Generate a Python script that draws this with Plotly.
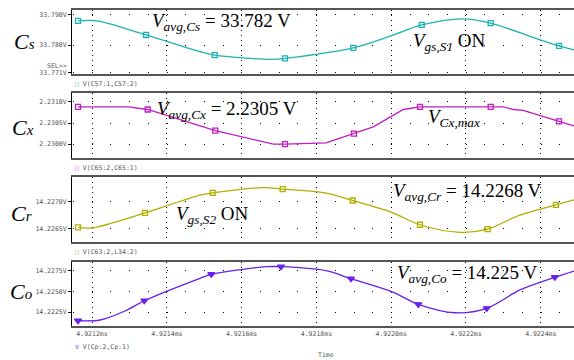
import plotly.graph_objects as go

# ---------------- data (time in ms, voltage in V) ----------------
t_cs = [4.9211626, 4.9212134, 4.9213444, 4.9214888, 4.9215281, 4.9216759, 4.9217160, 4.9218987,
        4.9220013, 4.9220816, 4.9221920, 4.9222660, 4.9223791, 4.9224487, 4.9224888]
v_cs = [33.78792, 33.7879, 33.7833, 33.7778, 33.7767, 33.7753, 33.7756, 33.7791,
        33.7831, 33.7866, 33.7886, 33.7872, 33.7825, 33.7797, 33.7784]
mk_cs = [0, 2, 4, 6, 7, 9, 11, 13]

t_cx = [4.9211626, 4.9212971, 4.9213489, 4.9214888, 4.9215297, 4.9216848, 4.9217160, 4.9218257, 4.9219005,
        4.9219521, 4.9220324, 4.9220770, 4.9222660, 4.9222997, 4.9223265, 4.9223532, 4.9224487, 4.9224888]
v_cx = [2.23088, 2.23088, 2.23082, 2.23043, 2.23032, 2.23000, 2.23000, 2.23003, 2.23025,
        2.23041, 2.23082, 2.23088, 2.23088, 2.23088, 2.23082, 2.23080, 2.23054, 2.23043]
mk_cx = [0, 2, 4, 6, 8, 11, 12, 16]

t_cr = [4.9211626, 4.9212000, 4.9213417, 4.9214888, 4.9215227, 4.9216580, 4.9217099, 4.9218230,
        4.9218971, 4.9220013, 4.9220770, 4.9221840, 4.9222580, 4.9223444, 4.9224406, 4.9224888]
v_cr = [14.22652, 14.22651, 14.22679, 14.22712, 14.22716, 14.22726, 14.22723, 14.22716,
        14.22702, 14.22680, 14.22657, 14.22643, 14.22649, 14.22675, 14.22694, 14.22703]
mk_cr = [0, 2, 4, 6, 8, 10, 12, 14]

t_co = [4.9211626, 4.9212214, 4.9212882, 4.9213398, 4.9214888, 4.9215190, 4.9216671, 4.9217053, 4.9218257,
        4.9218925, 4.9220013, 4.9220725, 4.9221706, 4.9222553, 4.9223444, 4.9224375, 4.9224888]
v_co = [14.22147, 14.22156, 14.22264, 14.22387, 14.22656, 14.22704, 14.22795, 14.22795, 14.22747,
        14.22651, 14.22495, 14.22344, 14.22243, 14.22296, 14.22516, 14.22668, 14.22743]
mk_co = [0, 3, 5, 7, 9, 11, 13, 15]

x_ticks = [4.9212, 4.9214, 4.9216, 4.9218, 4.9220, 4.9222, 4.9224]
x_labels = ["4.9212ms", "4.9214ms", "4.9216ms", "4.9218ms", "4.9220ms", "4.9222ms", "4.9224ms"]

y_ticks = [[33.771, 33.780, 33.790], [2.2300, 2.2305, 2.2310], [14.2265, 14.2270], [14.2225, 14.2250, 14.2275]]
y_labels = [["33.771V", "33.780V", "33.790V"], ["2.2300V", "2.2305V", "2.2310V"],
            ["14.2265V", "14.2270V"], ["14.2225V", "14.2250V", "14.2275V"]]
legend_names = ["V(C57:1,C57:2)", "V(C65:2,C65:1)", "V(C63:2,L34:2)", "V(Cp:2,Cp:1)"]

# ---------------- styling ----------------
W, H = 574, 360
ML = 72
PW = W - ML
colors = ["#1db3b3", "#c21cc2", "#b3ad00", "#6a1ef0"]
symbols = ["square-open", "square-open", "square-open", "triangle-down"]
shapes_line = ["spline", "linear", "spline", "spline"]
ranges = [[33.7705, 33.7915], [2.22968, 2.23121], [14.22625, 14.22745], [14.22084, 14.22851]]
panels_px = [(10, 74), (93, 157.7), (177.3, 242), (262, 326)]
x_range = [4.9211465, 4.9224888]
mono = "DejaVu Sans Mono"
serif = "Liberation Serif"
small = 6.5


def px(x):
    return (x - ML) / PW


def py(y):
    return 1 - y / H


series = [(t_cs, v_cs, mk_cs), (t_cx, v_cx, mk_cx), (t_cr, v_cr, mk_cr), (t_co, v_co, mk_co)]

fig = go.Figure()
for i, (t, v, mk) in enumerate(series):
    xa = "x" if i == 0 else f"x{i+1}"
    ya = "y" if i == 0 else f"y{i+1}"
    fig.add_trace(go.Scatter(x=t, y=v, mode="lines", xaxis=xa, yaxis=ya,
                             line=dict(color=colors[i], width=1.3, shape=shapes_line[i], smoothing=0.9),
                             showlegend=False, hoverinfo="skip"))
    fig.add_trace(go.Scatter(x=[t[k] for k in mk], y=[v[k] for k in mk], mode="markers",
                             xaxis=xa, yaxis=ya,
                             marker=dict(symbol=symbols[i], size=5 if i < 3 else 6, color=colors[i],
                                         line=dict(color=colors[i], width=1.3)),
                             showlegend=False, hoverinfo="skip"))

layout = dict(width=W, height=H, margin=dict(l=ML, r=0, t=0, b=0, autoexpand=False),
              paper_bgcolor="white", plot_bgcolor="white", showlegend=False)

for i in range(4):
    top, bot = panels_px[i]
    sx = "" if i == 0 else str(i + 1)
    xa = dict(
        domain=[0, 1], range=x_range, anchor="y" + sx, automargin=False,
        tickmode="array", tickvals=x_ticks, ticktext=x_labels,
        showticklabels=(i == 3), ticks="",
        tickfont=dict(family=mono, size=small, color="#555"),
        showgrid=True, gridcolor="black", gridwidth=1, griddash="1px,4px",
        showline=True, linecolor="#555", linewidth=2, mirror=True, zeroline=False)
    if i > 0:
        xa["matches"] = "x"
    layout["xaxis" + sx] = xa
    layout["yaxis" + sx] = dict(
        domain=[py(bot), py(top)], range=ranges[i], anchor="x" + sx, automargin=False,
        tickmode="array", tickvals=y_ticks[i], ticktext=y_labels[i],
        ticks="outside", ticklen=3, tickcolor="black", tickwidth=1,
        tickfont=dict(family=mono, size=small, color="#555"),
        showgrid=True, gridcolor="black", gridwidth=1, griddash="0px,1px,1px,16.7px",
        showline=True, linecolor="black", linewidth=1, zeroline=False)

anns = []
# left big labels
for base, sub, xl, yc in [("C", "s", 12, 41), ("C", "x", 10, 127),
                          ("C", "r", 9, 213), ("C", "o", 8, 291)]:
    txt = f"<i>{base}<span style='font-size:15px'>{sub}</span></i>"
    anns.append(dict(x=px(xl), y=py(yc), xref="paper", yref="paper", text=txt, showarrow=False,
                     xanchor="left", yanchor="middle", font=dict(family=serif, size=22, color="black")))

# in-plot labels
for txt, xl, yc in [
    ("<i>V<sub>avg,Cs</sub></i> = 33.782 V", 150, 22),
    ("<i>V<sub>gs,S1</sub></i> ON", 411, 42),
    ("<i>V<sub>avg,Cx</sub></i> = 2.2305 V", 155, 110),
    ("<i>V<sub>Cx,max</sub></i>", 426, 118),
    ("<i>V<sub>gs,S2</sub></i> ON", 174, 215),
    ("<i>V<sub>avg,Cr</sub></i> = 14.2268 V", 391, 192),
    ("<i>V<sub>avg,Co</sub></i> = 14.225 V", 395, 274),
]:
    anns.append(dict(x=px(xl), y=py(yc), xref="paper", yref="paper", text=txt, showarrow=False,
                     xanchor="left", yanchor="middle", font=dict(family=serif, size=19, color="black")))

# legends
leg_y = [84, 167.5, 251.5, 346.5]
leg_sym = ["□", "□", "□", "▽"]
for i in range(4):
    anns.append(dict(x=px(73), y=py(leg_y[i]), xref="paper", yref="paper",
                     text=f"<span style='color:{colors[i]}'>{leg_sym[i]}</span> {legend_names[i]}",
                     showarrow=False, xanchor="left", yanchor="middle",
                     font=dict(family=mono, size=small, color="#555")))

anns.append(dict(x=px(69), y=py(66), xref="paper", yref="paper", text="SEL>>", showarrow=False,
                 xanchor="right", yanchor="middle", font=dict(family=mono, size=small, color="#555")))
anns.append(dict(x=px(326), y=py(355), xref="paper", yref="paper", text="Time", showarrow=False,
                 xanchor="center", yanchor="middle", font=dict(family=mono, size=small, color="#555")))

layout["annotations"] = anns
fig.update_layout(**layout)
fig.write_html("out.html", config={"displayModeBar": False, "staticPlot": True},
               post_script="document.body.style.margin='0';document.body.style.overflow='hidden';")
